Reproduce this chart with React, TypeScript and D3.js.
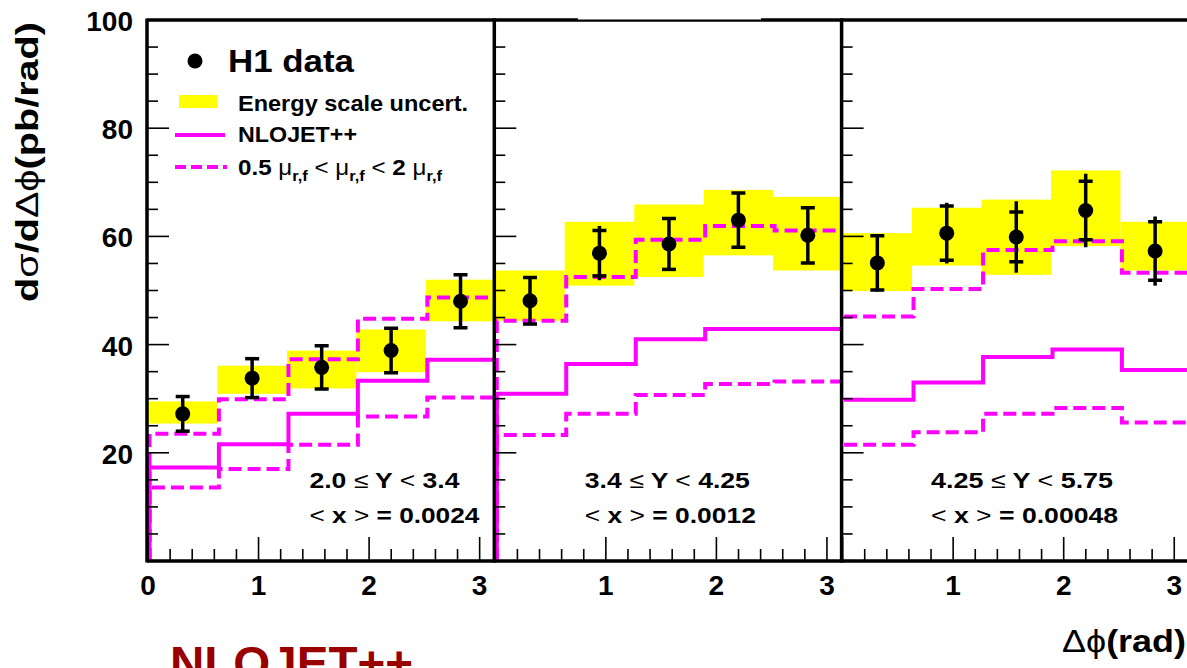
import * as d3 from 'd3';

// bin edges / centres in delta-phi (rad), five bins of pi/5
const binEdges = [0, 0.628, 1.257, 1.885, 2.513, 3.1416];
const binCentres = [0.314, 0.942, 1.571, 2.199, 2.827];

// rapidity ranges and mean x for the three panels
const yLow = ['2.0', '3.4', '4.25'];
const yHigh = ['3.4', '4.25', '5.75'];
const meanX = ['0.0024', '0.0012', '0.00048'];

// H1 data points
const h1Data = [
  [27.2, 33.8, 35.8, 38.9, 48.0],
  [48.1, 56.9, 58.6, 63.0, 60.2],
  [55.1, 60.6, 59.9, 64.8, 57.3],
];
const statErr = [
  [3.2, 3.6, 4.0, 4.1, 4.9],
  [4.3, 4.2, 4.7, 5.0, 5.1],
  [5.0, 5.0, 4.6, 5.4, 5.4],
];
const totErr = [
  [3.2, 3.6, 4.0, 4.1, 4.9],
  [4.5, 5.0, 4.9, 5.2, 5.3],
  [5.3, 5.6, 6.6, 6.8, 6.4],
];

// energy scale uncertainty band
const scaleLo = [
  [25.4, 30.9, 31.9, 34.9, 44.3],
  [44.4, 50.9, 52.5, 56.5, 53.7],
  [49.9, 54.6, 52.9, 58.2, 53.7],
];
const scaleHi = [
  [29.5, 36.1, 38.9, 42.8, 52.0],
  [53.7, 62.7, 65.9, 68.6, 67.3],
  [60.6, 65.3, 66.8, 72.2, 62.7],
];

// NLOJET++ and its scale variation
const nlo = [
  [17.3, 21.6, 27.2, 33.3, 37.2],
  [30.9, 36.4, 41.0, 42.9, 42.9],
  [29.8, 33.0, 37.7, 39.1, 35.3],
];
const nloUp = [
  [23.5, 29.9, 37.3, 44.8, 48.7],
  [44.4, 52.5, 59.4, 61.9, 61.1],
  [45.2, 50.3, 57.5, 59.1, 53.3],
];
const nloLo = [
  [13.6, 17.0, 21.5, 26.7, 30.2],
  [23.3, 27.2, 30.7, 32.7, 33.2],
  [21.5, 23.8, 27.2, 28.3, 25.6],
];

const W = 1187;
const H = 668;
const top = 20;
const bottom = 561;
const left = 148;
const panelW = 347.3;
const font = 'Liberation Sans, Arial, Helvetica, sans-serif';
const magenta = '#ff00ff';
const yellow = '#ffff00';

// where the bin labels start (in rad) and how wide they are, per panel
const labelStart = [1.46, 0.81, 0.8];
const labelW = [
  [150, 170],
  [165, 171],
  [182, 187],
];

const y = d3.scaleLinear().domain([0, 100]).range([bottom, top]);

function Panel({ i }: { i: number }) {
  const x0 = left + i * panelW;
  const x = d3.scaleLinear().domain([0, Math.PI]).range([x0, x0 + panelW]);
  // the last panel's histograms do not drop to zero at the edges
  const drop = i < 2;

  const steps = (vals: number[]) => {
    const pts: [number, number][] = drop ? [[binEdges[0], 0]] : [];
    vals.forEach((v, k) => {
      pts.push([binEdges[k], v]);
      pts.push([binEdges[k + 1], v]);
    });
    if (drop) pts.push([binEdges[binEdges.length - 1], 0]);
    return d3
      .line<[number, number]>()
      .x((d) => x(d[0]) + 1.5)
      .y((d) => y(d[1]))(pts);
  };

  const clipId = `clip${i}`;
  const labelX = x(labelStart[i]);
  const fx = x0 - 1;

  return (
    <g>
      <defs>
        <clipPath id={clipId}>
          <rect x={x0} y={top} width={panelW} height={bottom - top} />
        </clipPath>
      </defs>
      <g clipPath={`url(#${clipId})`}>
        {scaleHi[i].map((hi, k) => (
          <rect
            key={k}
            x={x(binEdges[k])}
            y={y(hi)}
            width={x(binEdges[k + 1]) - x(binEdges[k])}
            height={y(scaleLo[i][k]) - y(hi)}
            fill={yellow}
          />
        ))}
        <path d={steps(nlo[i]) || ''} fill="none" stroke={magenta} strokeWidth={4} />
        <path d={steps(nloUp[i]) || ''} fill="none" stroke={magenta} strokeWidth={4} strokeDasharray="13,6" />
        <path d={steps(nloLo[i]) || ''} fill="none" stroke={magenta} strokeWidth={4} strokeDasharray="13,6" />
        {h1Data[i].map((v, k) => {
          const cx = x(binCentres[k]);
          const s = statErr[i][k];
          const t = totErr[i][k];
          return (
            <g key={k} stroke="#000" strokeWidth={3.5}>
              <line x1={cx} x2={cx} y1={y(v - t)} y2={y(v + t)} />
              <line x1={cx - 7} x2={cx + 7} y1={y(v + s)} y2={y(v + s)} />
              <line x1={cx - 7} x2={cx + 7} y1={y(v - s)} y2={y(v - s)} />
              <circle cx={cx} cy={y(v)} r={7.5} fill="#000" stroke="none" />
            </g>
          );
        })}
      </g>

      {/* ticks */}
      <g stroke="#000" strokeWidth={1.6}>
        {y.ticks(20).map((t) => (
          <line key={'y' + t} x1={fx} x2={fx + (t % 20 === 0 ? 22 : 11)} y1={y(t)} y2={y(t)} />
        ))}
        {x.ticks(16).map((t) => (
          <line
            key={'x' + t}
            x1={x(t)}
            x2={x(t)}
            y1={bottom}
            y2={bottom - (Math.abs(t - Math.round(t)) < 1e-6 ? 24 : 12)}
          />
        ))}
      </g>

      {/* frame */}
      <g stroke="#000" strokeWidth={3.5}>
        <line x1={fx} x2={fx} y1={top - 1.5} y2={bottom + 1.5} />
        <line x1={fx} x2={x0 + panelW} y1={top} y2={top} />
        <line x1={fx} x2={x0 + panelW} y1={bottom} y2={bottom} />
      </g>

      {/* x tick labels */}
      {x
        .ticks(3)
        .filter((t) => i === 0 || t > 0)
        .map((t) => (
          <text key={'xl' + t} x={x(t)} y={595} textAnchor="middle" fontSize={28} fontWeight="bold" fontFamily={font}>
            {t}
          </text>
        ))}

      {/* bin label */}
      <text x={labelX} y={488} fontSize={22} fontWeight="bold" fontFamily={font} textLength={labelW[i][0]} lengthAdjust="spacingAndGlyphs">
        <tspan>{yLow[i]} </tspan>
        <tspan fontWeight="normal">≤</tspan>
        <tspan> Y </tspan>
        <tspan fontWeight="normal">&lt;</tspan>
        <tspan> {yHigh[i]}</tspan>
      </text>
      <text x={labelX} y={523} fontSize={22} fontWeight="bold" fontFamily={font} textLength={labelW[i][1]} lengthAdjust="spacingAndGlyphs">
        <tspan fontWeight="normal">&lt;</tspan>
        <tspan> x </tspan>
        <tspan fontWeight="normal">&gt;</tspan>
        <tspan> = {meanX[i]}</tspan>
      </text>
    </g>
  );
}

function Mu() {
  return (
    <>
      <tspan fontWeight="normal">μ</tspan>
      <tspan fontSize={15} dy={6}>r,f</tspan>
      <tspan dy={-6}> </tspan>
    </>
  );
}

export default function App() {
  const yTickLabels = y.ticks(5).filter((t) => t > 0);
  return (
    <svg
      width={W}
      height={H}
      viewBox={`0 0 ${W} ${H}`}
      style={{ position: 'absolute', left: 0, top: 0, background: '#fff' }}
    >
      <rect width={W} height={H} fill="#fff" />
      {[0, 1, 2].map((i) => (
        <Panel key={i} i={i} />
      ))}

      {/* gap in the top border */}
      <rect x={578} y={8} width={183} height={11.5} fill="#fff" />

      {/* y tick labels */}
      {yTickLabels.map((t) => (
        <text key={t} x={133} y={y(t) + 11} textAnchor="end" fontSize={28} fontWeight="bold" fontFamily={font}>
          {t}
        </text>
      ))}

      {/* y axis title */}
      <text
        transform={`translate(38,162) rotate(-90)`}
        textAnchor="middle"
        fontSize={31}
        fontWeight="bold"
        fontFamily={font}
        textLength={280}
        lengthAdjust="spacingAndGlyphs"
      >
        <tspan>d</tspan>
        <tspan fontWeight="normal">σ</tspan>
        <tspan>/d</tspan>
        <tspan fontWeight="normal">Δϕ</tspan>
        <tspan>(pb/rad)</tspan>
      </text>

      {/* x axis title */}
      <text
        x={1186}
        y={652}
        textAnchor="end"
        fontSize={31}
        fontWeight="bold"
        fontFamily={font}
        textLength={124}
        lengthAdjust="spacingAndGlyphs"
      >
        <tspan fontWeight="normal">Δϕ</tspan>
        <tspan>(rad)</tspan>
      </text>

      {/* legend */}
      <circle cx={195} cy={61} r={7.5} fill="#000" />
      <text x={228} y={72} fontSize={32} fontWeight="bold" fontFamily={font} textLength={126} lengthAdjust="spacingAndGlyphs">
        H1 data
      </text>
      <rect x={179} y={95} width={38} height={13} fill={yellow} />
      <text x={238} y={111} fontSize={22} fontWeight="bold" fontFamily={font} textLength={230} lengthAdjust="spacingAndGlyphs">
        Energy scale uncert.
      </text>
      <line x1={175} x2={225} y1={135} y2={135} stroke={magenta} strokeWidth={4} />
      <text x={238} y={142} fontSize={22} fontWeight="bold" fontFamily={font} textLength={119} lengthAdjust="spacingAndGlyphs">
        NLOJET++
      </text>
      <line x1={175} x2={227} y1={167} y2={167} stroke={magenta} strokeWidth={4} strokeDasharray="11,5" />
      <text x={238} y={175} fontSize={22} fontWeight="bold" fontFamily={font} textLength={204} lengthAdjust="spacingAndGlyphs">
        <tspan>0.5 </tspan>
        <Mu />
        <tspan fontWeight="normal">&lt; </tspan>
        <Mu />
        <tspan fontWeight="normal">&lt; </tspan>
        <tspan>2 </tspan>
        <Mu />
      </text>

      {/* caption below, cut by the bottom edge as in the original */}
      <text x={170} y={679} fontSize={47} fontWeight="bold" fontFamily={font} fill="#990000" textLength={243} lengthAdjust="spacingAndGlyphs">
        NLOJET++
      </text>
    </svg>
  );
}
